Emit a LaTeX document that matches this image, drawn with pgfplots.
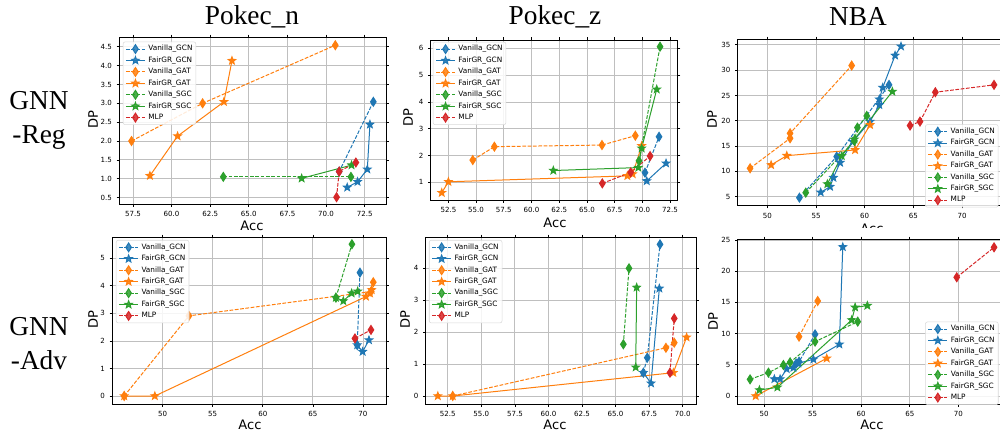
\documentclass[border=0pt]{standalone}
\usepackage{fontspec}
\setmainfont{Liberation Serif}
\newfontfamily\dejavu{DejaVu Sans}
\usepackage{pgfplots}
\pgfplotsset{compat=1.18}

\definecolor{tblue}{HTML}{1F77B4}
\definecolor{torange}{HTML}{FF7F0E}
\definecolor{tgreen}{HTML}{2CA02C}
\definecolor{tred}{HTML}{D62728}

% filled five-pointed star, like matplotlib's '*'
\pgfdeclareplotmark{fstar}{%
  \pgfpathmoveto{\pgfpointpolar{90}{\pgfplotmarksize}}%
  \pgfpathlineto{\pgfpointpolar{126}{0.42\pgfplotmarksize}}%
  \pgfpathlineto{\pgfpointpolar{162}{\pgfplotmarksize}}%
  \pgfpathlineto{\pgfpointpolar{198}{0.42\pgfplotmarksize}}%
  \pgfpathlineto{\pgfpointpolar{234}{\pgfplotmarksize}}%
  \pgfpathlineto{\pgfpointpolar{270}{0.42\pgfplotmarksize}}%
  \pgfpathlineto{\pgfpointpolar{306}{\pgfplotmarksize}}%
  \pgfpathlineto{\pgfpointpolar{342}{0.42\pgfplotmarksize}}%
  \pgfpathlineto{\pgfpointpolar{18}{\pgfplotmarksize}}%
  \pgfpathlineto{\pgfpointpolar{54}{0.42\pgfplotmarksize}}%
  \pgfpathclose
  \pgfusepathqfillstroke}

\newcommand\tickfont{\dejavu\fontsize{5.3}{6}\selectfont}
\newcommand\labfont{\dejavu\fontsize{9.8}{11}\selectfont}
\newcommand\legfont{\dejavu\fontsize{5.5}{6}\selectfont}
\newcommand\titfont{\fontsize{20.5}{25.5}\selectfont}

\pgfplotsset{
  van/.style={color=#1, line width=0.75pt, dash pattern=on 2.8pt off 1.2pt,
    mark=diamond*, mark size=3.3pt, mark options={solid, fill=#1, xscale=0.85}},
  fair/.style={color=#1, line width=0.75pt, solid,
    mark=fstar, mark size=2.9pt, mark options={solid, fill=#1}},
  panel/.style={
    scale only axis, anchor=south west,
    axis line style={line width=0.6pt},
    grid=major, grid style={line width=0.6pt, black!25},
    tick align=outside, major tick length=2pt,
    tick style={black, line width=0.5pt},
    tick label style={font=\tickfont},
    scaled ticks=false,
    /pgf/number format/assume math mode=true,
    legend cell align=left,
    legend image code/.code={%
      \draw[mark repeat=2, mark phase=2, ##1] plot coordinates {(0cm,0cm) (0.25cm,0cm) (0.5cm,0cm)};},
    legend style={font=\legfont, draw=black!15, fill=white, fill opacity=0.85,
      text opacity=1, rounded corners=1.5pt, inner sep=1.8pt, row sep=1.5pt,
      column sep=1.5pt, nodes={inner sep=0.7pt}},
  },
  zf/.style={/pgf/number format/.cd, fixed, fixed zerofill, precision=1},
}

\begin{document}
\begin{tikzpicture}
\useasboundingbox (0,0) rectangle (750pt,324.75pt);
\clip (0,0) rectangle (750pt,324.75pt);

% ---- titles ----
\node[font=\titfont] at (189pt,312pt) {Pokec\_n};
\node[font=\titfont] at (416.25pt,312pt) {Pokec\_z};
\node[font=\titfont] at (643.5pt,312pt) {NBA};
\node[font=\titfont, align=center] at (29.25pt,234.75pt) {GNN\\-Reg};
\node[font=\titfont, align=center] at (29.25pt,67.1pt) {GNN\\-Adv};

% ---- Pokec_n, regularisation ----
\begin{axis}[panel, at={(89.5pt,171.75pt)}, width=200pt, height=125pt,
  xmin=56.62, xmax=73.88, ymin=0.33, ymax=4.75,
  xtick={57.5,60,...,72.5}, ytick={0.5,1,...,4.5},
  xticklabel style={zf}, yticklabel style={zf},
  legend style={at={(0.013,0.974)}, anchor=north west}]
\addplot[van=tblue] coordinates {(73.06,3.04) (70.85,1.19)};
\addplot[fair=tblue] coordinates {(71.37,0.77) (72.04,0.92) (72.67,1.25) (72.84,2.44)};
\addplot[van=torange] coordinates {(57.41,2.00) (62.01,3.00) (70.60,4.54)};
\addplot[fair=torange] coordinates {(58.60,1.08) (60.39,2.13) (63.39,3.04) (63.91,4.13)};
\addplot[van=tgreen] coordinates {(63.35,1.05) (71.61,1.05)};
\addplot[fair=tgreen] coordinates {(68.42,1.01) (71.65,1.36)};
\addplot[van=tred] coordinates {(70.68,0.51) (70.85,1.19) (71.93,1.43)};
\legend{Vanilla\_GCN,FairGR\_GCN,Vanilla\_GAT,FairGR\_GAT,Vanilla\_SGC,FairGR\_SGC,MLP}
\end{axis}

% ---- Pokec_z, regularisation ----
\begin{axis}[panel, at={(323pt,174.75pt)}, width=185.25pt, height=120pt,
  xmin=50.9, xmax=73.19, ymin=0.34, ymax=6.31,
  xtick={52.5,55,...,72.5}, ytick={1,...,6},
  xticklabel style={zf},
  legend style={at={(0.009,0.989)}, anchor=north west}]
\addplot[van=tblue] coordinates {(70.24,1.36) (71.51,2.70)};
\addplot[fair=tblue] coordinates {(70.40,1.05) (72.14,1.71)};
\addplot[van=torange] coordinates {(54.70,1.83) (56.65,2.33) (66.36,2.39) (69.37,2.74)};
\addplot[fair=torange] coordinates {(51.90,0.61) (52.50,1.02) (68.65,1.24) (69.13,1.31) (69.94,2.36)};
\addplot[van=tgreen] coordinates {(69.70,1.80) (71.60,6.06)};
\addplot[fair=tgreen] coordinates {(61.97,1.44) (69.64,1.55) (69.94,2.27) (71.30,4.47)};
\addplot[van=tred] coordinates {(66.39,0.96) (68.95,1.37) (70.70,1.98)};
\legend{Vanilla\_GCN,FairGR\_GCN,Vanilla\_GAT,FairGR\_GAT,Vanilla\_SGC,FairGR\_SGC,MLP}
\end{axis}

% ---- NBA, regularisation ----
\begin{axis}[panel, at={(553.3pt,170.5pt)}, width=202pt, height=124.8pt,
  xmin=46.95, xmax=74.63, ymin=3.23, ymax=36.1,
  xtick={50,55,...,70}, ytick={5,10,...,35},
  legend style={at={(0.968,0.489)}, anchor=north east}]
\addplot[van=tblue] coordinates {(53.29,4.81) (57.12,12.92) (62.50,27.09)};
\addplot[fair=tblue] coordinates {(55.48,5.86) (56.44,6.98) (56.78,8.76) (57.47,11.73) (58.77,15.88) (60.55,19.84) (61.50,23.13) (61.50,24.25) (61.85,26.56) (63.12,32.90) (63.73,34.70)};
\addplot[van=torange] coordinates {(48.22,10.61) (52.33,16.54) (52.33,17.53) (58.66,30.91)};
\addplot[fair=torange] coordinates {(50.38,11.27) (51.99,13.11) (59.01,14.24) (60.55,19.18)};
\addplot[van=tgreen] coordinates {(53.94,5.80) (58.94,16.00) (59.25,18.65) (60.21,20.96)};
\addplot[fair=tgreen] coordinates {(56.16,7.51) (57.64,13.05) (58.94,16.35) (62.84,25.77)};
\addplot[van=tred] coordinates {(64.66,19.05) (65.68,19.84) (67.26,25.64) (73.29,27.09)};
\legend{Vanilla\_GCN,FairGR\_GCN,Vanilla\_GAT,FairGR\_GAT,Vanilla\_SGC,FairGR\_SGC,MLP}
\end{axis}

% axis labels, top row
\node[font=\labfont, rotate=90] at (69.75pt,234.75pt) {DP};
\node[font=\labfont, rotate=90] at (306pt,236.25pt) {DP};
\node[font=\labfont, rotate=90] at (534pt,234.75pt) {DP};
\node[font=\labfont] at (189pt,155.25pt) {Acc};
\node[font=\labfont] at (416.25pt,157.5pt) {Acc};
\node[font=\labfont] at (654pt,153pt) {Acc};
\fill[white] (548pt,0pt) rectangle (750pt,153.75pt);

% ---- Pokec_n, adversarial ----
\begin{axis}[panel, at={(84.2pt,21.75pt)}, width=205.3pt, height=125pt,
  xmin=44.98, xmax=72.3, ymin=-0.29, ymax=5.76,
  xtick={50,55,...,70}, ytick={0,...,5},
  legend style={at={(0.0135,0.984)}, anchor=north west}]
\addplot[van=tblue] coordinates {(69.70,4.48) (69.43,1.85)};
\addplot[fair=tblue] coordinates {(69.43,1.85) (69.97,1.61) (70.60,2.03)};
\addplot[van=torange] coordinates {(46.17,0.00) (52.63,2.91) (70.80,3.79) (71.03,4.13)};
\addplot[fair=torange] coordinates {(46.17,0.00) (49.23,0.00) (70.30,3.61) (70.70,3.73) (70.87,3.85)};
\addplot[van=tgreen] coordinates {(67.30,3.57) (68.90,5.51)};
\addplot[fair=tgreen] coordinates {(67.30,3.57) (68.04,3.45) (68.87,3.73) (69.47,3.80)};
\addplot[van=tred] coordinates {(69.20,2.09) (70.80,2.40)};
\legend{Vanilla\_GCN,FairGR\_GCN,Vanilla\_GAT,FairGR\_GAT,Vanilla\_SGC,FairGR\_SGC,MLP}
\end{axis}

% ---- Pokec_z, adversarial ----
\begin{axis}[panel, at={(319.3pt,21.75pt)}, width=202.7pt, height=125pt,
  xmin=50.86, xmax=70.99, ymin=-0.25, ymax=4.97,
  xtick={52.5,55,...,70}, ytick={0,...,4},
  xticklabel style={zf},
  legend style={at={(0.012,0.984)}, anchor=north west}]
\addplot[van=tblue] coordinates {(67.07,0.73) (67.36,1.20) (68.31,4.75)};
\addplot[fair=tblue] coordinates {(67.07,0.73) (67.64,0.40) (68.26,3.37)};
\addplot[van=torange] coordinates {(52.87,0.00) (68.75,1.51) (69.37,1.67)};
\addplot[fair=torange] coordinates {(51.76,0.00) (52.87,0.00) (69.30,0.73) (70.29,1.84)};
\addplot[van=tgreen] coordinates {(65.58,1.62) (66.00,4.00)};
\addplot[fair=tgreen] coordinates {(66.50,0.90) (66.57,3.40)};
\addplot[van=tred] coordinates {(69.05,0.73) (69.37,2.43)};
\legend{Vanilla\_GCN,FairGR\_GCN,Vanilla\_GAT,FairGR\_GAT,Vanilla\_SGC,FairGR\_SGC,MLP}
\end{axis}

% ---- NBA, adversarial ----
\begin{axis}[panel, at={(553.3pt,21.75pt)}, width=201.2pt, height=123.5pt,
  xmin=47.29, xmax=74.9, ymin=-1.28, ymax=25.1,
  xtick={50,55,...,70}, ytick={0,5,...,25},
  legend style={at={(0.972,0.5)}, anchor=north east}]
\addplot[van=tblue] coordinates {(53.30,5.20) (53.60,5.50) (55.25,9.88)};
\addplot[fair=tblue] coordinates {(51.06,2.72) (51.65,2.72) (52.33,4.33) (53.02,4.54) (53.53,5.24) (55.08,5.88) (57.75,8.28) (58.10,23.88)};
\addplot[van=torange] coordinates {(53.60,9.51) (55.52,15.22)};
\addplot[fair=torange] coordinates {(49.14,0.00) (56.45,6.04)};
\addplot[van=tgreen] coordinates {(48.56,2.67) (50.45,3.74) (51.99,4.97) (52.68,5.40) (55.25,8.71) (59.64,11.91)};
\addplot[fair=tgreen] coordinates {(49.52,0.96) (51.37,1.39) (59.02,12.18) (59.37,14.21) (60.63,14.48)};
\addplot[van=tred] coordinates {(69.83,19.02) (73.67,23.82)};
\legend{Vanilla\_GCN,FairGR\_GCN,Vanilla\_GAT,FairGR\_GAT,Vanilla\_SGC,FairGR\_SGC,MLP}
\end{axis}

% axis labels, bottom row
\node[font=\labfont, rotate=90] at (69.75pt,84.75pt) {DP};
\node[font=\labfont, rotate=90] at (303.75pt,84.75pt) {DP};
\node[font=\labfont, rotate=90] at (534.75pt,83.25pt) {DP};
\node[font=\labfont] at (187.5pt,6.3pt) {Acc};
\node[font=\labfont] at (416.25pt,6.3pt) {Acc};
\node[font=\labfont] at (654pt,6pt) {Acc};
\end{tikzpicture}
\end{document}
